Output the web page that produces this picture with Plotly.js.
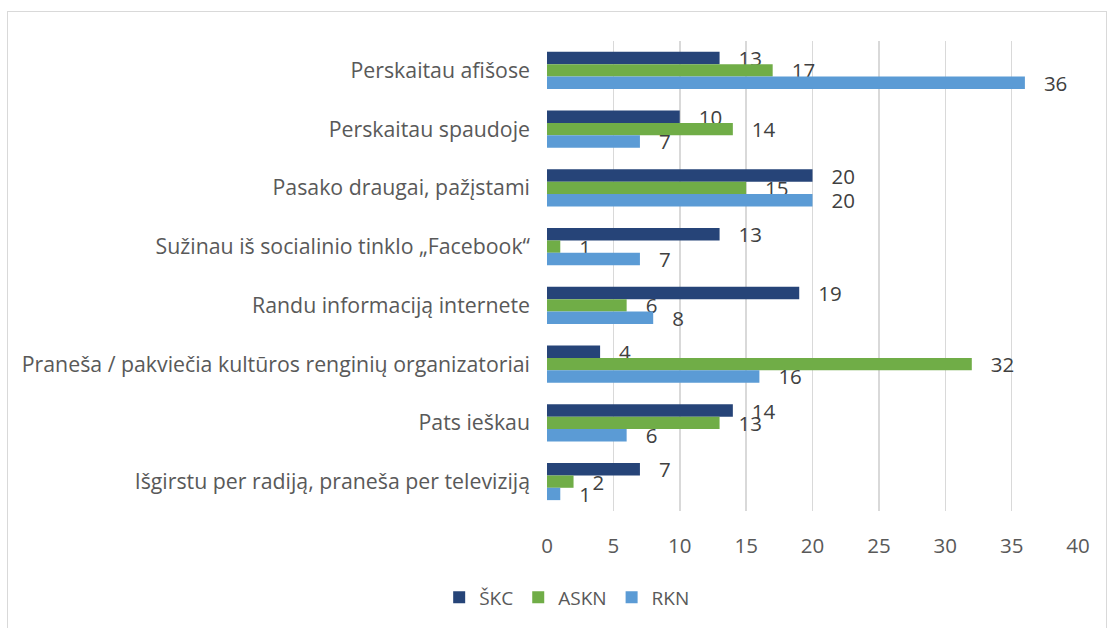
<!DOCTYPE html>
<html><head><meta charset="utf-8">
<script src="https://cdn.plot.ly/plotly-3.0.1.min.js"></script>
<style>
html,body{margin:0;padding:0;background:#fff;}
#frame{position:absolute;left:7px;top:11px;width:1100px;height:640px;border:1px solid #d9d9d9;box-sizing:border-box;}
#chart{position:absolute;left:0;top:0;width:1109px;height:628px;}
</style></head>
<body>
<div id="frame"></div>
<div id="chart"></div>
<script>
const categories = [
  "Perskaitau afišose",
  "Perskaitau spaudoje",
  "Pasako draugai, pažįstami",
  "Sužinau iš socialinio tinklo „Facebook“",
  "Randu informaciją internete",
  "Praneša / pakviečia kultūros renginių organizatoriai",
  "Pats ieškau",
  "Išgirstu per radiją, praneša per televiziją"
];
const seriesNames = ["ŠKC", "ASKN", "RKN"];
const skc  = [13, 10, 20, 13, 19, 4, 14, 7];
const askn = [17, 14, 15, 1, 6, 32, 13, 2];
const rkn  = [36, 7, 20, 7, 8, 16, 6, 1];
const xTicks = [0, 5, 10, 15, 20, 25, 30, 35, 40];

const colors = ["#264478", "#70AD47", "#5B9BD5"];
const font = "Open Sans, Noto Sans, sans-serif";

const traces = [skc, askn, rkn].map((vals, i) => ({
  type: "bar",
  orientation: "h",
  name: seriesNames[i],
  x: vals,
  y: categories,
  marker: {color: colors[i]},
  text: vals.map(v => String(v)),
  texttemplate: "   %{text}",
  textposition: "outside",
  constraintext: "none",
  cliponaxis: false,
  textfont: {family: font, size: 20.5, color: "#404040"},
  hoverinfo: "x+name"
}));

const layout = {
  width: 1109, height: 628,
  margin: {l: 547, r: 31, t: 41, b: 117},
  paper_bgcolor: "rgba(0,0,0,0)",
  plot_bgcolor: "rgba(0,0,0,0)",
  barmode: "group",
  bargap: 0.37,
  bargroupgap: 0,
  showlegend: true,
  legend: {orientation: "h", x: 0.038, xanchor: "center", y: -0.184, yanchor: "middle",
           font: {family: font, size: 19, color: "#595959"}, traceorder: "normal",
           itemwidth: 30},
  xaxis: {range: [0, 40], tickvals: xTicks, ticktext: xTicks.map(String),
          showgrid: true, gridcolor: "#d9d9d9", gridwidth: 1.5,
          zeroline: false, showline: false, ticks: "",
          ticklabelstandoff: 20,
          tickfont: {family: font, size: 20.5, color: "#595959"}, fixedrange: true},
  yaxis: {autorange: "reversed", type: "category", showgrid: false, zeroline: false,
          showline: false, ticks: "", ticklabelstandoff: 16,
          tickfont: {family: font, size: 21.3, color: "#595959"}, fixedrange: true},
  font: {family: font}
};

Plotly.newPlot("chart", traces, layout, {displayModeBar: false, staticPlot: true});
</script>
</body></html>
